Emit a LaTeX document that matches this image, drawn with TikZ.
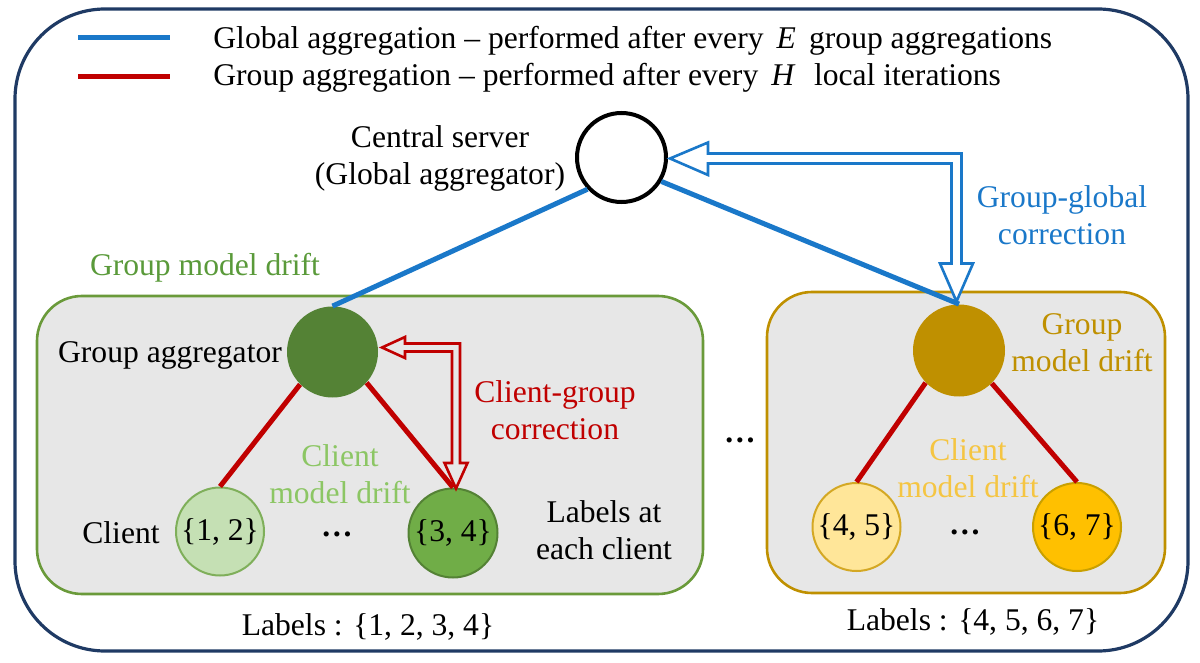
\documentclass[tikz,border=0pt]{standalone}
\usepackage{fontspec}
\setmainfont{Liberation Serif}
\definecolor{navy}{HTML}{1F3A64}
\definecolor{cblue}{HTML}{1A78C9}
\definecolor{cred}{HTML}{C00000}
\definecolor{dgreen}{HTML}{548235}
\definecolor{boxgreen}{HTML}{6A9A3A}
\definecolor{txtgreen}{HTML}{5A9A3A}
\definecolor{lgreentxt}{HTML}{8CC664}
\definecolor{clight}{HTML}{C5E0B4}
\definecolor{clightb}{HTML}{7FAF5A}
\definecolor{cmid}{HTML}{70AD47}
\definecolor{gold}{HTML}{BF9000}
\definecolor{lgoldtxt}{HTML}{F5C542}
\definecolor{cgl}{HTML}{FFE699}
\definecolor{cglb}{HTML}{D4A824}
\definecolor{cgm}{HTML}{FFC000}
\definecolor{cgmb}{HTML}{C9A000}
\definecolor{boxfill}{HTML}{E7E7E7}
\tikzset{
  txt/.style={font=\fontsize{15.8}{18.5}\selectfont, inner sep=0pt, align=center},
  circ/.style={circle, inner sep=0pt, font=\fontsize{15.8}{18.5}\selectfont},
  gbox/.style={rounded corners=22.5pt, fill=boxfill, line width=1.3pt},
  bline/.style={cblue, line width=2.5pt},
  rline/.style={cred, line width=2.5pt},
}
\begin{document}
\begin{tikzpicture}[x=0.5pt,y=-0.5pt]
\useasboundingbox (0,0) rectangle (1200,663);
% outer frame
\draw[navy, line width=1.6pt, rounded corners=45pt] (15,9) rectangle (1188,651);
% legend
\coordinate (lb1) at (78,38);
\coordinate (lb2) at (170,38);
\coordinate (lr1) at (78,77);
\coordinate (lr2) at (170,77);
\draw[bline] (lb1) -- (lb2);
\draw[rline] (lr1) -- (lr2);
\node[txt, anchor=base west] (leg1) at (213,48.5) {Global aggregation -- performed after every \,\textit{E}\, group aggregations};
\node[txt, anchor=base west] (leg2) at (213,86) {Group aggregation -- performed after every \,\textit{H}\,\, local iterations};
% group boxes
\draw[gbox, draw=boxgreen] (37,296) rectangle (703,594);
\draw[gbox, draw=gold] (767,292) rectangle (1165,593);
% circles
\node[circ, draw=black, line width=2pt, fill=white, minimum size=44.5pt] (cs) at (621.5,157.5) {};
\node[circ, fill=dgreen, minimum size=45.5pt] (ga1) at (332.5,352) {};
\node[circ, fill=clight, draw=clightb, line width=1pt, minimum size=44pt] (c12) at (220,531.5) {\{1, 2\}};
\node[circ, fill=cmid, draw=dgreen, line width=1pt, minimum size=44.5pt] (c34) at (453,533) {\{3, 4\}};
\node[circ, fill=gold, minimum size=46pt] (ga2) at (959,350.5) {};
\node[circ, fill=cgl, draw=cglb, line width=1pt, minimum size=44pt] (c45) at (856.5,527) {\{4, 5\}};
\node[circ, fill=cgm, draw=cgmb, line width=1pt, minimum size=44pt] (c67) at (1077,527) {\{6, 7\}};
% connectors
\draw[bline] (cs.-137) -- (ga1.north);
\draw[bline] (cs.-31) -- (ga2.north);
\draw[rline] (ga1.-135) -- (c12.north);
\draw[rline] (ga1.-42) -- (c34.north);
\draw[rline] (ga2.-136) -- (c45.north);
\draw[rline] (ga2.-45) -- (c67.north);
% correction arrows
\draw[cred, line width=1.3pt, fill=boxfill, line join=miter]
  (382,347.5) -- (405,337) -- (405,343.5) -- (460,343.5) -- (460,463) -- (467.5,463)
  -- (456,488.5) -- (444.5,463) -- (452,463) -- (452,351.5) -- (405,351.5) -- (405,358) -- cycle;
\draw[cblue, line width=1.3pt, fill=white, line join=miter]
  (670,158.5) -- (708,142.5) -- (708,153.5) -- (961.5,153.5) -- (961.5,263.5) -- (973,263.5)
  -- (956.5,301.5) -- (940,263.5) -- (951.5,263.5) -- (951.5,163.5) -- (708,163.5) -- (708,175) -- cycle;
% texts
\node[txt] (cstxt) at (440,158) {Central server\\(Global aggregator)};
\node[txt, text=txtgreen] (gmd1) at (205,268) {Group model drift};
\node[txt] (gatxt) at (170,355) {Group aggregator};
\node[txt] (cltxt) at (121,533) {Client};
\node[txt] (dots1) at (337,534) {\textbf{\ldots}};
\node[txt, text=lgreentxt] (cmd1) at (340,474) {Client\\model drift};
\node[txt] (lac) at (604,530) {Labels at\\each client};
\node[txt, text=cred] (cgc) at (555,410) {Client-group\\correction};
\node[txt] (lab1) at (368,627) {Labels : \{1, 2, 3, 4\}};
\node[txt] (dotsmid) at (740,440) {\textbf{\ldots}};
\node[txt, text=cblue] (ggc) at (1062,215) {Group-global\\correction};
\node[txt, text=gold] (gmd2) at (1082,343) {Group\\model drift};
\node[txt, text=lgoldtxt] (cmd2) at (968,468) {Client\\model drift};
\node[txt] (dots2) at (965,532) {\textbf{\ldots}};
\node[txt] (lab2) at (973,622) {Labels : \{4, 5, 6, 7\}};
\end{tikzpicture}
\end{document}
